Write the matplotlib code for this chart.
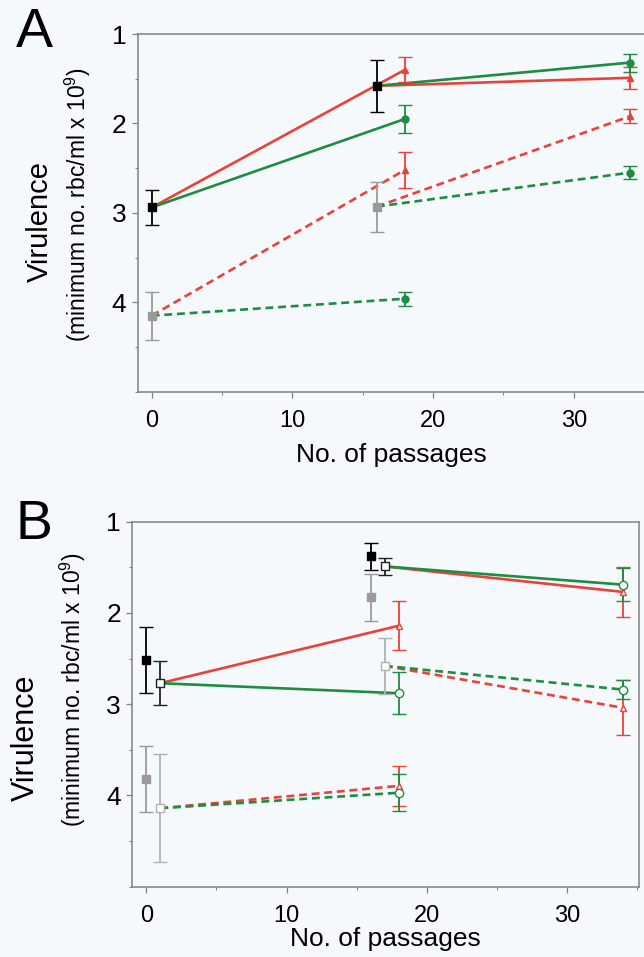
import matplotlib
matplotlib.use("Agg")
import matplotlib.pyplot as plt
from matplotlib.ticker import MultipleLocator

plt.rcParams['font.family'] = ['Liberation Sans', 'DejaVu Sans']
plt.rcParams['mathtext.default'] = 'regular'

# ---- panel A values (virulence, lower = more virulent) ----
a_anc_x = [0, 16]
a_anc_solid = [2.94, 1.58]
a_anc_solid_err = [0.20, 0.29]
a_anc_dash = [4.15, 2.93]
a_anc_dash_err = [0.27, 0.28]
a_evo_x = [18, 34]
a_red_solid = [1.40, 1.49]
a_red_solid_err = [0.14, 0.12]
a_grn_solid = [1.95, 1.32]
a_grn_solid_err = [0.16, 0.10]
a_red_dash = [2.52, 1.92]
a_red_dash_err = [0.20, 0.08]
a_grn_dash = [3.96, 2.55]
a_grn_dash_err = [0.08, 0.075]

# ---- panel B values ----
b_anc_x = [0, 16]
b_anc_solid = [2.515, 1.38]
b_anc_solid_err = [0.36, 0.15]
b_anc_dash = [3.82, 1.83]
b_anc_dash_err = [0.36, 0.26]
b_start_x = [1, 17]
b_start_solid = [2.77, 1.49]
b_start_solid_err = [0.24, 0.09]
b_start_dash = [4.14, 2.58]
b_start_dash_err = [0.59, 0.31]
b_evo_x = [18, 34]
b_red_solid = [2.14, 1.77]
b_red_solid_err = [0.27, 0.27]
b_grn_solid = [2.88, 1.69]
b_grn_solid_err = [0.23, 0.18]
b_red_dash = [3.895, 3.04]
b_red_dash_err = [0.22, 0.30]
b_grn_dash = [3.97, 2.84]
b_grn_dash_err = [0.20, 0.10]

RED = '#e8423a'
GREEN = '#1e8c42'
GRAY = '#9a9a9a'
LGRAY = '#b0b0b0'
BG = '#f6f9fc'
DASH = (0, (3, 1.8))

W, H = 644, 957
fig = plt.figure(figsize=(W / 100, H / 100), dpi=100, facecolor=BG)


def px_axes(left, top, right, bottom):
    return fig.add_axes([left / W, 1 - bottom / H, (right - left) / W, (bottom - top) / H])


def style(ax):
    ax.set_facecolor(BG)
    ax.set_xlim(-1, 35.1)
    ax.set_ylim(5, 1)
    ax.xaxis.set_major_locator(MultipleLocator(10))
    ax.xaxis.set_minor_locator(MultipleLocator(5))
    ax.yaxis.set_minor_locator(MultipleLocator(0.5))
    ax.set_yticks([1, 2, 3, 4])
    for s in ax.spines.values():
        s.set_color('#808080')
        s.set_linewidth(1.1)
    ax.tick_params(axis='both', which='both', direction='out', color='#808080')
    ax.tick_params(axis='both', which='major', length=4, width=0.9)
    ax.tick_params(axis='both', which='minor', length=2.5, width=0.7)
    ax.tick_params(axis='x', which='major', labelsize=17, pad=9)
    ax.tick_params(axis='y', which='major', labelsize=19, pad=4)


def err(ax, x, y, e, color, marker, ms, mfc=None, z=4):
    ax.errorbar(x, y, yerr=e, fmt=marker, color=color, ms=ms,
                mfc=mfc if mfc else color, mec=color, mew=1.0,
                elinewidth=1.3, capsize=5, capthick=1.3, zorder=z)


# ---------------- panel A ----------------
axA = px_axes(137.6, 34, 645.5, 391.7)
style(axA)
for i in range(2):
    axA.plot([a_anc_x[i], a_evo_x[i]], [a_anc_solid[i], a_red_solid[i]], color=RED, lw=1.9, zorder=2)
    axA.plot([a_anc_x[i], a_evo_x[i]], [a_anc_solid[i], a_grn_solid[i]], color=GREEN, lw=1.9, zorder=2)
    axA.plot([a_anc_x[i], a_evo_x[i]], [a_anc_dash[i], a_red_dash[i]], color=RED, lw=1.9, ls=DASH, zorder=2)
    axA.plot([a_anc_x[i], a_evo_x[i]], [a_anc_dash[i], a_grn_dash[i]], color=GREEN, lw=1.9, ls=DASH, zorder=2)
err(axA, a_anc_x, a_anc_dash, a_anc_dash_err, GRAY, 's', 5.5)
err(axA, a_anc_x, a_anc_solid, a_anc_solid_err, 'black', 's', 5.5)
err(axA, a_evo_x, a_red_solid, a_red_solid_err, RED, '^', 4.5)
err(axA, a_evo_x, a_red_dash, a_red_dash_err, RED, '^', 4.5)
err(axA, a_evo_x, a_grn_solid, a_grn_solid_err, GREEN, 'o', 5)
err(axA, a_evo_x, a_grn_dash, a_grn_dash_err, GREEN, 'o', 5)
axA.set_xlabel('No. of passages', fontsize=19, labelpad=8)

# ---------------- panel B ----------------
axB = px_axes(132.2, 521.7, 638.7, 886.7)
style(axB)
for i in range(2):
    axB.plot([b_start_x[i], b_evo_x[i]], [b_start_solid[i], b_red_solid[i]], color=RED, lw=1.9, zorder=2)
    axB.plot([b_start_x[i], b_evo_x[i]], [b_start_solid[i], b_grn_solid[i]], color=GREEN, lw=1.9, zorder=2)
    axB.plot([b_start_x[i], b_evo_x[i]], [b_start_dash[i], b_red_dash[i]], color=RED, lw=1.9, ls=DASH, zorder=2)
    axB.plot([b_start_x[i], b_evo_x[i]], [b_start_dash[i], b_grn_dash[i]], color=GREEN, lw=1.9, ls=DASH, zorder=2)
err(axB, b_anc_x, b_anc_dash, b_anc_dash_err, GRAY, 's', 5.5)
err(axB, b_anc_x, b_anc_solid, b_anc_solid_err, 'black', 's', 5.5)
err(axB, b_start_x, b_start_dash, b_start_dash_err, LGRAY, 's', 5.5, mfc='white')
err(axB, b_start_x, b_start_solid, b_start_solid_err, '#222222', 's', 5.5, mfc='white')
err(axB, b_evo_x, b_red_solid, b_red_solid_err, RED, '^', 5, mfc='white')
err(axB, b_evo_x, b_red_dash, b_red_dash_err, RED, '^', 5, mfc='white')
err(axB, b_evo_x, b_grn_solid, b_grn_solid_err, GREEN, 'o', 6, mfc='white')
err(axB, b_evo_x, b_grn_dash, b_grn_dash_err, GREEN, 'o', 6, mfc='white')
axB.set_xlabel('No. of passages', fontsize=19, labelpad=0)

# ---------------- labels ----------------
sub = '(minimum no. rbc/ml x 10$^{9}$)'
fig.text(34 / W, 1 - 33 / H, 'A', fontsize=40, ha='center', va='center')
fig.text(34 / W, 1 - 525 / H, 'B', fontsize=40, ha='center', va='center')
fig.text(40 / W, 1 - 221 / H, 'Virulence', fontsize=21, rotation=90, ha='center', va='center')
fig.text(78 / W, 1 - 205 / H, sub, fontsize=16.5, rotation=90, ha='center', va='center')
fig.text(26 / W, 1 - 738 / H, 'Virulence', fontsize=22, rotation=90, ha='center', va='center')
fig.text(73 / W, 1 - 690 / H, sub, fontsize=16.5, rotation=90, ha='center', va='center')

fig.savefig('out.png', dpi=100, facecolor=BG)
